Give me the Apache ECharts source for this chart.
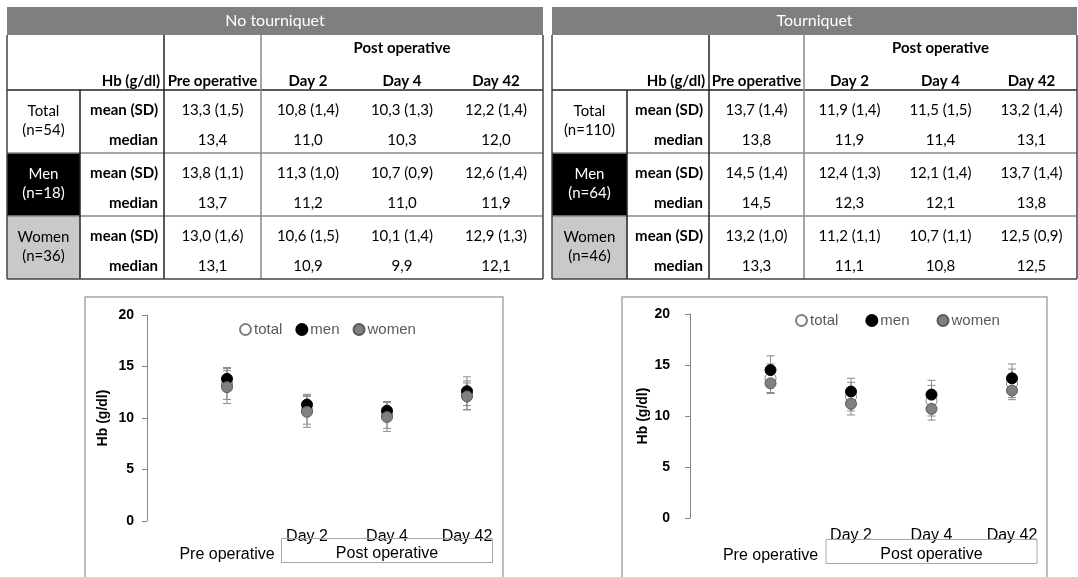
<!DOCTYPE html>
<html>
<head>
<meta charset="utf-8">
<script src="https://cdn.jsdelivr.net/npm/echarts@6/dist/echarts.min.js"></script>
<style>
html, body { margin: 0; padding: 0; background: #fff; }
#main { width: 1078px; height: 577px; }
</style>
</head>
<body>
<div id="main"></div>
<script>
var days = ['Pre operative', 'Day 2', 'Day 4', 'Day 42'];
var dayTicks = ['', 'Day 2', 'Day 4', 'Day 42'];
var phases = ['Pre operative', 'Post operative'];
var phaseSpan = [[0, 0], [1, 3]];
var groupNames = ['Total', 'Men', 'Women'];
var seriesNames = ['total', 'men', 'women'];

// No tourniquet
var ntN = [54, 18, 36];
var ntTotalMean = [13.3, 10.8, 10.3, 12.2];
var ntTotalSd = [1.5, 1.4, 1.3, 1.4];
var ntTotalMedian = [13.4, 11.0, 10.3, 12.0];
var ntMenMean = [13.8, 11.3, 10.7, 12.6];
var ntMenSd = [1.1, 1.0, 0.9, 1.4];
var ntMenMedian = [13.7, 11.2, 11.0, 11.9];
var ntWomenMean = [13.0, 10.6, 10.1, 12.9];
var ntWomenSd = [1.6, 1.5, 1.4, 1.3];
var ntWomenMedian = [13.1, 10.9, 9.9, 12.1];
// the plot shows women day 42 lower than the table does
var ntWomenPlot = [13.0, 10.6, 10.1, 12.1];

// Tourniquet
var tqN = [110, 64, 46];
var tqTotalMean = [13.7, 11.9, 11.5, 13.2];
var tqTotalSd = [1.4, 1.4, 1.5, 1.4];
var tqTotalMedian = [13.8, 11.9, 11.4, 13.1];
var tqMenMean = [14.5, 12.4, 12.1, 13.7];
var tqMenSd = [1.4, 1.3, 1.4, 1.4];
var tqMenMedian = [14.5, 12.3, 12.1, 13.8];
var tqWomenMean = [13.2, 11.2, 10.7, 12.5];
var tqWomenSd = [1.0, 1.1, 1.1, 0.9];
var tqWomenMedian = [13.3, 11.1, 10.8, 12.5];

var chartFont = '"Liberation Sans", Arial, sans-serif';

function fmt(v) {
	return v.toFixed(1).replace('.', ',');
}

function txt(s, x, y, font, align, fill, lh) {
	var st = {
		text: s, font: font, textAlign: align, textVerticalAlign: 'middle',
		fill: fill || '#000'
	};
	if (lh) st.lineHeight = lh;
	return { type: 'text', silent: true, z: 10, x: x, y: y, style: st };
}

function box(x, y, w, h, fill, stroke, lw) {
	return {
		type: 'rect', silent: true, z: 5,
		shape: { x: x, y: y, width: w, height: h },
		style: { fill: fill || 'none', stroke: stroke || null, lineWidth: lw || 0 }
	};
}

function seg(x1, y1, x2, y2, color, lw) {
	return {
		type: 'line', silent: true, z: 8,
		shape: { x1: x1, y1: y1, x2: x2, y2: y2 },
		style: { stroke: color, lineWidth: lw || 1.5 }
	};
}

function buildTable(cols, title, n, rows) {
	var L = cols[0], R = cols[4];
	var dw = (R - cols[3]) / 3;
	var cx = [(cols[2] + cols[3]) / 2, cols[3] + dw / 2, cols[3] + dw * 1.5, cols[3] + dw * 2.5];
	var top = 7, head = 35, hl = 90, bh = 63, bot = hl + bh * 3;
	var el = [];
	el.push(box(L, top, R - L, head - top, '#7f7f7f'));
	el.push(txt(title, (L + R) / 2, 21, '16px Lato', 'center', '#fff'));
	el.push(txt('Post operative', (cols[3] + R) / 2, 48, 'bold 15px Lato', 'center'));
	el.push(txt('Hb (g/dl)', cols[2] - 4, 81, 'bold 15px Lato', 'right'));
	days.forEach(function(d, i) {
		el.push(txt(d, cx[i], 81, 'bold 15px Lato', 'center'));
	});
	rows.forEach(function(r, g) {
		var y0 = hl + bh * g;
		if (g === 1) el.push(box(L, y0, cols[1] - L, bh, '#000'));
		if (g === 2) el.push(box(L, y0, cols[1] - L, bh, '#c9c9c9'));
		el.push(txt(groupNames[g] + '\n(n=' + n[g] + ')', (L + cols[1]) / 2, y0 + 31, '15px Lato', 'center', g === 1 ? '#fff' : '#000', 19));
		el.push(txt('mean (SD)', cols[2] - 6, y0 + 20, 'bold 15px Lato', 'right'));
		el.push(txt('median', cols[2] - 6, y0 + 50, 'bold 15px Lato', 'right'));
		r[0].forEach(function(m, i) {
			el.push(txt(fmt(m) + ' (' + fmt(r[1][i]) + ')', cx[i], y0 + 20, '15px Lato', 'center'));
			el.push(txt(fmt(r[2][i]), cx[i], y0 + 50, '15px Lato', 'center'));
		});
	});
	// grid lines
	el.push(seg(L, hl, R, hl, '#222'));
	el.push(seg(L, hl + bh, R, hl + bh, '#888'));
	el.push(seg(L, hl + bh * 2, R, hl + bh * 2, '#888'));
	el.push(seg(cols[1], hl, cols[1], bot, '#222'));
	el.push(seg(cols[2], head, cols[2], bot, '#222'));
	el.push(seg(cols[3], head, cols[3], bot, '#888'));
	el.push(seg(L, head, L, bot, '#444'));
	el.push(seg(R, head, R, bot, '#444'));
	el.push(seg(L, bot, R, bot, '#444'));
	return el;
}

function errorBars(ax, means, sds) {
	return {
		type: 'custom', xAxisIndex: ax * 2, yAxisIndex: ax, silent: true, z: 2,
		encode: { x: 0, y: [1, 2] },
		data: means.map(function(m, i) { return [i + 1, m - sds[i], m + sds[i]]; }),
		renderItem: function(params, api) {
			var lo = api.coord([api.value(0), api.value(1)]);
			var hi = api.coord([api.value(0), api.value(2)]);
			var w = 4, st = { stroke: '#8a8a8a', lineWidth: 1 };
			return {
				type: 'group',
				children: [
					{ type: 'line', shape: { x1: lo[0], y1: lo[1], x2: hi[0], y2: hi[1] }, style: st },
					{ type: 'line', shape: { x1: lo[0] - w, y1: lo[1], x2: lo[0] + w, y2: lo[1] }, style: st },
					{ type: 'line', shape: { x1: hi[0] - w, y1: hi[1], x2: hi[0] + w, y2: hi[1] }, style: st }
				]
			};
		}
	};
}

var pointStyles = [
	{ color: '#fff', borderColor: '#7f7f7f', borderWidth: 1, opacity: 1 },
	{ color: '#000', borderColor: '#000', borderWidth: 1, opacity: 1 },
	{ color: '#808080', borderColor: '#595959', borderWidth: 1, opacity: 1 }
];

function points(ax, k, means) {
	return {
		name: seriesNames[k], type: 'scatter', xAxisIndex: ax * 2, yAxisIndex: ax, z: 3,
		symbol: 'circle', symbolSize: 11, itemStyle: pointStyles[k],
		data: means.map(function(m, i) { return [i + 1, m]; })
	};
}

function dayAxis(grid, margin) {
	return {
		type: 'value', gridIndex: grid, min: 0, max: 4, interval: 1,
		axisLine: { show: false }, axisTick: { show: false }, splitLine: { show: false },
		axisLabel: {
			margin: margin, fontSize: 16, fontFamily: chartFont, color: '#000',
			formatter: function(v) { return dayTicks[v - 1] || ''; }
		}
	};
}

function phaseAxis(grid, offset) {
	return {
		type: 'value', gridIndex: grid, min: 0, max: 4, interval: 1, offset: offset,
		position: 'bottom',
		axisLine: { show: false }, axisTick: { show: false }, splitLine: { show: false },
		axisLabel: {
			margin: 0,
			formatter: function(v) {
				for (var p = 0; p < phases.length; p++) {
					if ((phaseSpan[p][0] + phaseSpan[p][1]) / 2 + 1 === v) {
						return p === 0 ? '{pre|' + phases[p] + '}' : '{post|' + phases[p] + '}';
					}
				}
				return '';
			},
			rich: {
				pre: { fontSize: 16, fontFamily: chartFont, color: '#000', lineHeight: 17, padding: [9, 0, 0, 0] },
				post: {
					fontSize: 16, fontFamily: chartFont, color: '#000', lineHeight: 17,
					width: 211, align: 'center', borderColor: '#a6a6a6', borderWidth: 1,
					padding: [7, 0, 1, 0]
				}
			}
		}
	};
}

function hbAxis(grid, margin, gap) {
	return {
		type: 'value', gridIndex: grid, min: 0, max: 20, interval: 5,
		name: 'Hb (g/dl)', nameLocation: 'middle', nameGap: gap,
		nameTextStyle: { fontSize: 14, fontWeight: 'bold', fontFamily: chartFont, color: '#000' },
		axisLine: { show: true, lineStyle: { color: '#868686', width: 1 } },
		axisTick: { show: true, inside: false, length: 5, lineStyle: { color: '#868686' } },
		splitLine: { show: false },
		axisLabel: { margin: margin, fontSize: 14, fontWeight: 'bold', fontFamily: chartFont, color: '#000' }
	};
}

function legend(left, top, gap) {
	return {
		left: left, top: top, orient: 'horizontal', itemGap: gap,
		itemWidth: 11, itemHeight: 11, selectedMode: false, icon: 'circle',
		itemStyle: { opacity: 1 },
		textStyle: { fontSize: 15, fontFamily: chartFont, color: '#595959', padding: [0, 0, 0, -2] },
		data: seriesNames
	};
}

var graphics = []
	.concat(buildTable([7, 80, 164, 261, 543], 'No tourniquet', ntN, [
		[ntTotalMean, ntTotalSd, ntTotalMedian],
		[ntMenMean, ntMenSd, ntMenMedian],
		[ntWomenMean, ntWomenSd, ntWomenMedian]
	]))
	.concat(buildTable([552, 627, 709, 804, 1077], 'Tourniquet', tqN, [
		[tqTotalMean, tqTotalSd, tqTotalMedian],
		[tqMenMean, tqMenSd, tqMenMedian],
		[tqWomenMean, tqWomenSd, tqWomenMedian]
	]));
graphics.push(box(85, 297, 418, 300, null, '#a6a6a6', 1.5));
graphics.push(box(622, 297, 425, 300, null, '#a6a6a6', 1.5));

var myChart = echarts.init(document.getElementById('main'));

var option = {
	backgroundColor: '#fff',
	animation: false,
	grid: [
		{ left: 147, top: 315, width: 320, height: 206, outerBoundsMode: 'none' },
		{ left: 690, top: 314, width: 322, height: 204, outerBoundsMode: 'none' }
	],
	xAxis: [dayAxis(0, 8), phaseAxis(0, 21), dayAxis(1, 10), phaseAxis(1, 25)],
	yAxis: [hbAxis(0, 13, 37), hbAxis(1, 20, 39)],
	legend: [legend(234, 317, 13), legend(790, 308, 27)],
	graphic: { elements: graphics },
	series: [
		errorBars(0, ntTotalMean, ntTotalSd),
		errorBars(0, ntMenMean, ntMenSd),
		errorBars(0, ntWomenPlot, ntWomenSd),
		points(0, 0, ntTotalMean),
		points(0, 1, ntMenMean),
		points(0, 2, ntWomenPlot),
		errorBars(1, tqTotalMean, tqTotalSd),
		errorBars(1, tqMenMean, tqMenSd),
		errorBars(1, tqWomenMean, tqWomenSd),
		points(1, 0, tqTotalMean),
		points(1, 1, tqMenMean),
		points(1, 2, tqWomenMean)
	]
};

myChart.setOption(option);
</script>
</body>
</html>
